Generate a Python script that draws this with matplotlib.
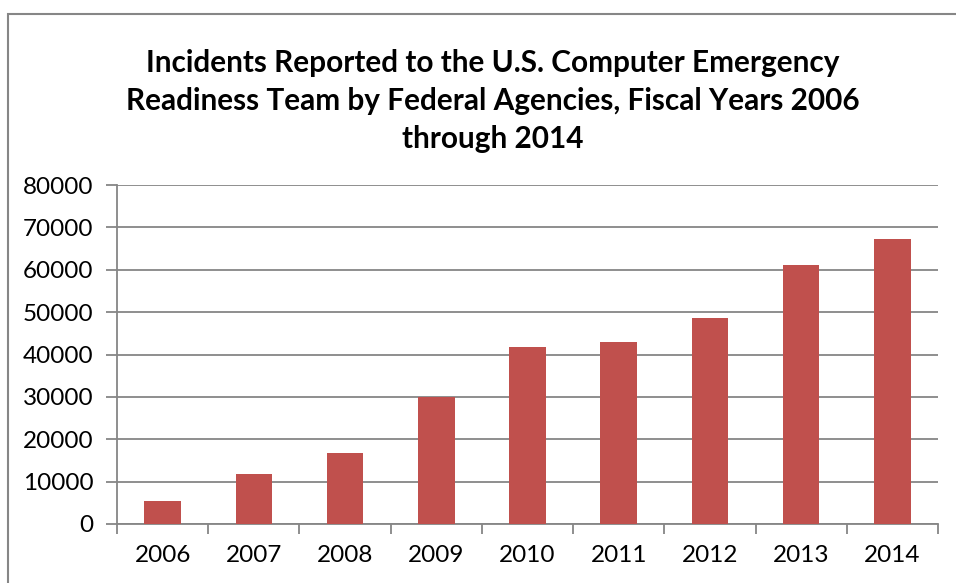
import matplotlib
matplotlib.use('Agg')
from matplotlib import pyplot as plt
from matplotlib.patches import Rectangle
import numpy as np

years = ['2006', '2007', '2008', '2009', '2010', '2011', '2012', '2013', '2014']
incidents = [5503, 11911, 16843, 29999, 41776, 42854, 48562, 61214, 67168]
y_ticks = [0, 10000, 20000, 30000, 40000, 50000, 60000, 70000, 80000]

title = ('Incidents Reported to the U.S. Computer Emergency\n'
         'Readiness Team by Federal Agencies, Fiscal Years 2006\n'
         'through 2014')


def main():
    plt.rcParams['font.family'] = ['Lato', 'DejaVu Sans']
    W, H = 956, 583
    fig = plt.figure(figsize=(W / 100, H / 100), dpi=100)

    # outer chart border (cut off at right and bottom)
    fig.patches.append(Rectangle((8 / W, -0.1), 1.2, 1 - 14 / H + 0.1,
                                 transform=fig.transFigure, fill=False,
                                 edgecolor='#868686', linewidth=1.5))

    ax = fig.add_axes([117 / W, 1 - 524 / H, (938 - 117) / W, (524 - 185) / H])
    x = np.arange(len(years))
    ax.bar(x, incidents, width=0.4, color='#C0504D', zorder=3)

    ax.set_xlim(-0.5, len(years) - 0.5)
    ax.set_ylim(0, 80000)
    ax.set_yticks(y_ticks)
    ax.set_yticklabels([str(v) for v in y_ticks])
    ax.set_xticks(x)
    ax.set_xticklabels(years)
    ax.set_xticks(np.arange(len(years) + 1) - 0.5, minor=True)

    ax.yaxis.grid(True, color='#868686', linewidth=1.3, zorder=0)
    ax.tick_params(axis='y', length=8, width=1.3, color='#868686',
                   labelsize=17.5, pad=9)
    ax.tick_params(axis='x', which='major', length=0, labelsize=17.5, pad=15)
    ax.tick_params(axis='x', which='minor', length=7, width=1.3,
                   color='#868686')
    for s in ['top', 'right']:
        ax.spines[s].set_visible(False)
    for s in ['left', 'bottom']:
        ax.spines[s].set_color('#868686')
        ax.spines[s].set_linewidth(1.3)

    fig.text(493 / W, 1 - 101 / H, title, ha='center', va='center',
             fontsize=21.4, fontweight='bold', linespacing=1.42)

    fig.savefig('out.png', dpi=100)


if __name__ == '__main__':
    main()
